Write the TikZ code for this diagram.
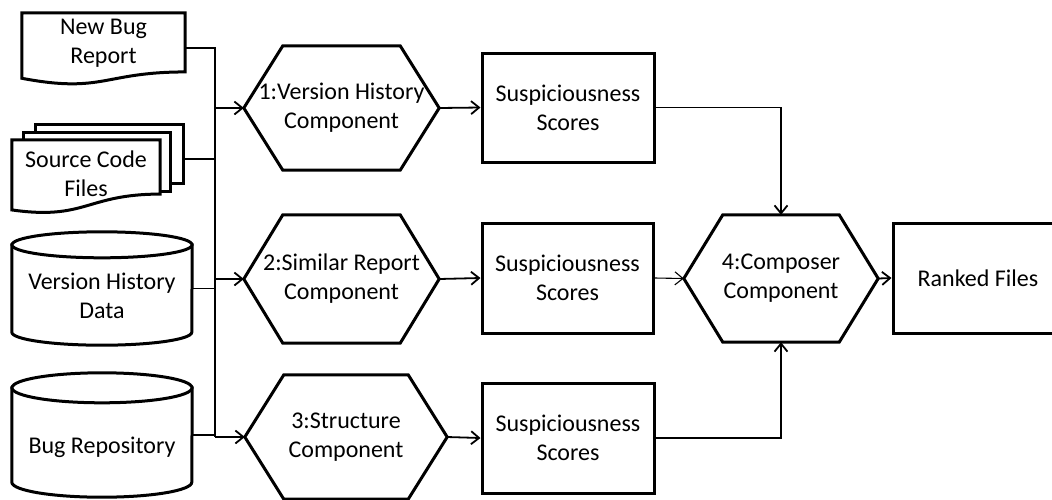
\documentclass[tikz,border=0pt]{standalone}
\usepackage{fontspec}
\setmainfont{Carlito}
\usetikzlibrary{calc,arrows.meta}
\tikzset{
  frame/.style={draw=none, inner sep=0pt, align=center, font=\fontsize{24}{29}\selectfont},
  outline/.style={draw=black, line width=3pt, fill=white, line join=miter},
  hexline/.style={draw=black, line width=3pt, line join=miter},
  boxnode/.style={frame, draw=black, line width=3pt},
  conn/.style={draw=black, line width=1.8pt},
  arr/.style={conn, -{Straight Barb[length=8pt,width=13pt]}},
}
\newcommand\mydocpath[5]{\draw[outline] (#1.north west) -- (#1.north east) -- ($(#1.north east)!#2!(#1.south east)$) .. controls ($(#1.north)!#2!(#1.south)$) and ($(#1.north)!#4!(#1.south)$) .. ($(#1.north west)!#3!(#1.south west)$) -- cycle;}
\newcommand\myhexpath[2]{\draw[hexline] (#1.west) -- ($(#1.north west)+(#2,0)$) -- ($(#1.north east)+(-#2,0)$) -- (#1.east) -- ($(#1.south east)+(-#2,0)$) -- ($(#1.south west)+(#2,0)$) -- cycle;}
\newcommand\mycylpath[3]{%
  \draw[outline] ($(#1.north west)+(0,#3)$) -- ($(#1.south west)+(0,-#3)$) arc[start angle=180,end angle=0,x radius=#2,y radius=#3] -- ($(#1.north east)+(0,#3)$) -- cycle;
  \draw[outline] ($(#1.north)+(0,#3)$) ellipse[x radius=#2,y radius=#3];}
\begin{document}
\begin{tikzpicture}[x=1pt,y=-1pt]
\useasboundingbox (0,0) rectangle (1052,499);
\clip (0,0) rectangle (1052,499);

% New Bug Report
\node[frame, minimum width=163pt, minimum height=70pt] (NBR) at (103.5,48) {};
\mydocpath{NBR}{0.84}{0.93}{1.15}{}
\node[frame] (NBRt) at ($(NBR.center)+(0,-5)$) {New Bug\\Report};

% Source Code Files
\node[frame, minimum width=147pt, minimum height=58pt] (SCF3) at (109.5,154) {};
\node[frame, minimum width=146pt, minimum height=58pt] (SCF2) at (97,162) {};
\draw[outline] (SCF3.north west) rectangle (SCF3.south east);
\draw[outline] (SCF2.north west) rectangle (SCF2.south east);
\node[frame, minimum width=148pt, minimum height=75pt] (SCF) at (86,177.5) {};
\mydocpath{SCF}{0.72}{0.93}{1.07}{}
\node[frame] (SCFt) at ($(SCF.center)+(0,-4)$) {Source Code\\Files};
\coordinate (scfout) at ($(SCF3.east)+(0,5)$);

% Version History Data
\node[frame, minimum width=180pt, minimum height=113pt] (VHD) at (102,288.5) {};
\mycylpath{VHD}{90}{13}
\node[frame] (VHDt) at ($(VHD.center)+(0,7)$) {Version History\\Data};

% Bug Repository
\node[frame, minimum width=180pt, minimum height=124pt] (BR) at (102,435) {};
\mycylpath{BR}{90}{15}
\node[frame] (BRt) at ($(BR.center)+(0,12)$) {Bug Repository};

% Components
\node[frame, minimum width=195pt, minimum height=124pt] (H1) at (341.5,108) {1:Version History\\Component};
\myhexpath{H1}{39}
\node[frame, minimum width=195pt, minimum height=128pt] (H2) at (341.5,279) {2:Similar Report\\Component};
\myhexpath{H2}{39}
\node[frame, minimum width=202pt, minimum height=124pt] (H3) at (346,437) {3:Structure\\Component};
\myhexpath{H3}{39}
\node[frame, minimum width=194pt, minimum height=127pt] (H4) at (781,278.5) {4:Composer\\Component};
\myhexpath{H4}{39}

% Scores
\node[boxnode, minimum width=172pt, minimum height=109pt] (S1) at (568,107.5) {Suspiciousness\\Scores};
\node[boxnode, minimum width=171pt, minimum height=110pt] (S2) at (567.5,278) {Suspiciousness\\Scores};
\node[boxnode, minimum width=172pt, minimum height=110pt] (S3) at (568,438) {Suspiciousness\\Scores};
\node[boxnode, minimum width=170pt, minimum height=110pt] (R) at (978,278) {Ranked Files};

% Connectors
\coordinate (bus) at (215,0);
\draw[conn] (NBR.east) -| (bus |- H3.west);
\draw[conn] (scfout) -- (scfout -| bus);
\draw[conn] (VHD.east) -- (VHD.east -| bus);
\draw[conn] (BR.east) -- (BR.east -| bus);
\draw[arr] (bus |- H1.west) -- (H1.west);
\draw[arr] (bus |- H2.west) -- (H2.west);
\draw[arr] (bus |- H3.west) -- (H3.west);
\draw[arr] (H1.east) -- (S1.west);
\draw[arr] (H2.east) -- (S2.west);
\draw[arr] (H3.east) -- (S3.west);
\draw[arr] (S1.east) -| (H4.north);
\draw[arr] (S3.east) -| (H4.south);
\draw[arr, line width=1.1pt] (S2.east) -- (H4.west);
\draw[arr] (H4.east) -- (R.west);
\end{tikzpicture}
\end{document}
